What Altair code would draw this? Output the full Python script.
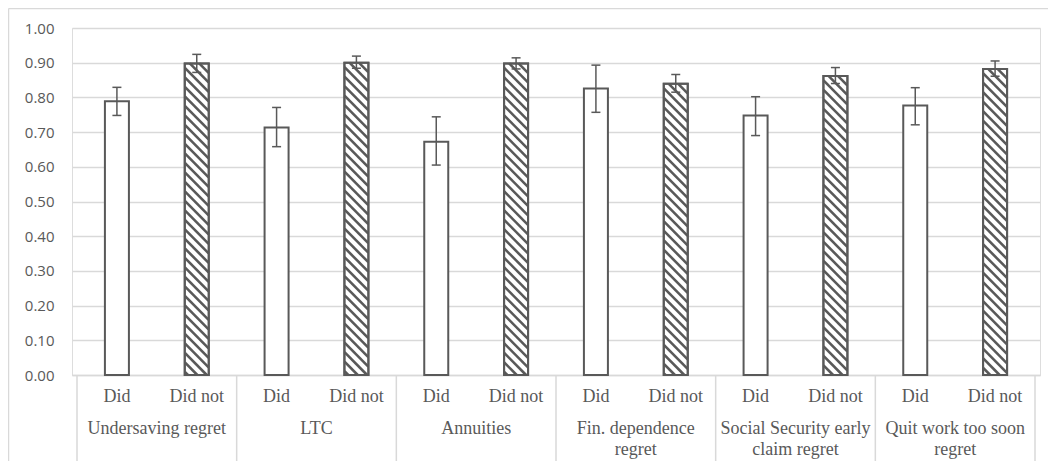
import altair as alt
import pandas as pd

# ---- data ----
groups = ["Undersaving regret", "LTC", "Annuities", "Fin. dependence\nregret",
          "Social Security early\nclaim regret", "Quit work too soon\nregret"]
subs = ["Did", "Did not"]
did = [0.789, 0.713, 0.672, 0.826, 0.748, 0.777]
did_lo = [0.748, 0.658, 0.605, 0.757, 0.690, 0.721]
did_hi = [0.829, 0.771, 0.744, 0.893, 0.802, 0.828]
didnot = [0.898, 0.900, 0.898, 0.839, 0.862, 0.882]
didnot_lo = [0.872, 0.884, 0.882, 0.815, 0.840, 0.861]
didnot_hi = [0.924, 0.919, 0.914, 0.866, 0.886, 0.905]
y_ticks = [0.0, 0.1, 0.2, 0.3, 0.4, 0.5, 0.6, 0.7, 0.8, 0.9, 1.0]

# ---- layout / style ----
W, H = 968, 347
n = len(groups)
xu = W / (2 * n)          # px per x unit
BAR_PX = 24
DARK = "#595959"
LIGHT = "#d9d9d9"

rows = []
for g, name in enumerate(groups):
    for s, (vals, lo, hi) in enumerate([(did, did_lo, did_hi), (didnot, didnot_lo, didnot_hi)]):
        rows.append({"group": name, "sub": subs[s], "pos": 2 * g + s + 0.5,
                     "value": vals[g], "lo": lo[g], "hi": hi[g]})
df = pd.DataFrame(rows)

# hatch segments for the "Did not" bars (45 deg pattern clipped to each bar)
hx = (BAR_PX / 2) / xu
d = BAR_PX / H
step = 9.5 / H
hatch = []
for _, r in df[df["sub"] == "Did not"].iterrows():
    v = r["value"]
    left = r["pos"] - hx
    yl = v + d
    while yl > 0:
        tmin = max(0.0, (yl - v) / d)
        tmax = min(1.0, yl / d)
        if tmax - tmin > 0.02:
            hatch.append({"x1": left + tmin * 2 * hx, "y1": yl - tmin * d,
                          "x2": left + tmax * 2 * hx, "y2": yl - tmax * d})
        yl -= step
hdf = pd.DataFrame(hatch)

gdf = pd.DataFrame({"gpos": [2 * g + 1 for g in range(n)], "label": groups})
bdf = pd.DataFrame({"bx": [2 * g for g in range(n + 1)]})

xs = alt.Scale(domain=[0, 2 * n], nice=False, zero=False)
ys = alt.Scale(domain=[0, 1], nice=False)
xaxis = alt.Axis(labels=False, ticks=False, grid=False, domain=True, domainColor=LIGHT,
                 domainWidth=1.5, title=None)
yaxis = alt.Axis(values=y_ticks, format=".2f", title=None, domain=False, ticks=False,
                 grid=True, gridColor=LIGHT, gridWidth=1.3, labelFont="Open Sans",
                 labelFontSize=15, labelColor=DARK, labelPadding=18, labelOverlap=False)


def X(f):
    return alt.X(f, scale=xs, axis=xaxis)


def Y(f):
    return alt.Y(f, scale=ys, axis=yaxis)


base = alt.Chart(df)

bars = base.mark_bar(size=BAR_PX, fill="white", stroke=DARK, strokeWidth=2).encode(
    x=X("pos:Q"), y=Y("value:Q"))

hatch_layer = alt.Chart(hdf).mark_rule(color=DARK, strokeWidth=2.6, strokeCap="butt").encode(
    x=X("x1:Q"), x2="x2:Q", y=Y("y1:Q"), y2="y2:Q")

outline = base.transform_filter(alt.datum.sub == "Did not").mark_bar(
    size=BAR_PX, fillOpacity=0, stroke=DARK, strokeWidth=2).encode(
    x=X("pos:Q"), y=Y("value:Q"))

err = base.mark_rule(color=DARK, strokeWidth=1.5).encode(
    x=X("pos:Q"), y=Y("lo:Q"), y2="hi:Q")
cap_hi = base.mark_rule(color=DARK, strokeWidth=1.5, xOffset=-4.5, x2Offset=4.5).encode(
    x=X("pos:Q"), x2="pos:Q", y=Y("hi:Q"))
cap_lo = base.mark_rule(color=DARK, strokeWidth=1.5, xOffset=-4.5, x2Offset=4.5).encode(
    x=X("pos:Q"), x2="pos:Q", y=Y("lo:Q"))

dividers = alt.Chart(bdf).mark_rule(color=LIGHT, strokeWidth=1.5).encode(
    x=X("bx:Q"), y=alt.value(H), y2=alt.value(H + 87))

sub_text = base.mark_text(font="Liberation Serif", fontSize=18, color=DARK,
                          baseline="middle").encode(
    x=X("pos:Q"), y=alt.value(H + 22), text="sub:N")

grp_text = alt.Chart(gdf).mark_text(font="Liberation Serif", fontSize=18, color=DARK,
                                    baseline="top", lineBreak="\n", lineHeight=21).encode(
    x=X("gpos:Q"), y=alt.value(H + 45), text="label:N")

frame_df = pd.DataFrame({"k": [0]})
frame_top = alt.Chart(frame_df).mark_rule(color=LIGHT, strokeWidth=1.5).encode(
    x=alt.value(-63.5), x2=alt.value(W + 20), y=alt.value(-19.5))
frame_left = alt.Chart(frame_df).mark_rule(color=LIGHT, strokeWidth=1.5).encode(
    x=alt.value(-63.5), y=alt.value(-19.5), y2=alt.value(H + 120))

chart = alt.layer(
    bars, hatch_layer, outline, err, cap_hi, cap_lo,
    dividers, sub_text, grp_text, frame_top, frame_left
).properties(
    width=W, height=H,
    autosize=alt.AutoSizeParams(type="none"),
    padding={"left": 64, "top": 20, "right": 8, "bottom": 86},
).configure_view(stroke=None).configure(background="white")

chart.save("out.html", embed_options={"renderer": "svg", "actions": False})
